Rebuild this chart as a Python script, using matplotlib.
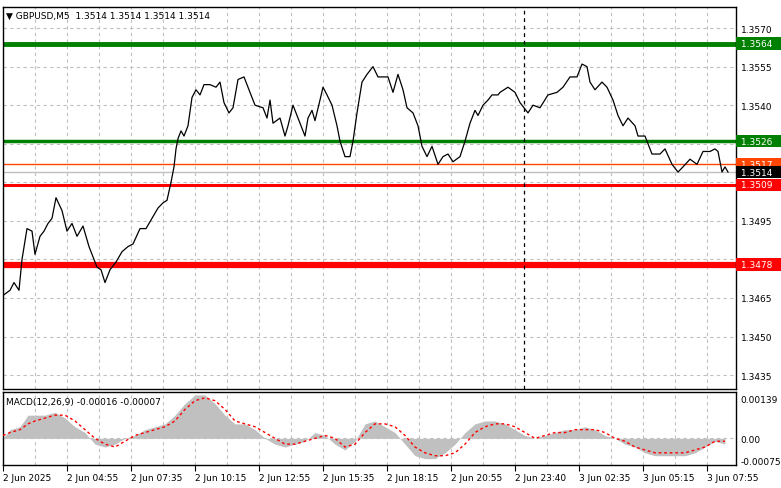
import matplotlib
matplotlib.use("Agg")
import matplotlib.pyplot as plt
import matplotlib.transforms as mtransforms
import numpy as np

# price path as (bar index, close) pairs
price_points = [
 (0,1.3466),(3.5,1.3468),(5.5,1.3471),(8,1.3468),(9.5,1.3480),(12,1.3492),(14.5,1.3491),(16,1.3482),
 (18.5,1.3489),(20.5,1.3491),(22.5,1.3494),(24.5,1.3496),(26.5,1.3504),(29.5,1.3499),(32,1.3491),
 (34.5,1.3494),(37,1.3489),(40,1.3493),(43,1.3485),(45,1.3481),(47,1.3477),(49,1.3476),(51,1.3471),
 (53.5,1.3476),(56.5,1.3479),(59.5,1.3483),(62.5,1.3485),(65,1.3486),(68.5,1.3492),(71.5,1.3492),
 (74.5,1.3496),(77.5,1.3500),(80,1.3502),(82,1.3503),(84,1.3510),(85.5,1.3516),(86.5,1.3523),
 (87.5,1.3527),(89,1.3530),(90.5,1.3528),(92.5,1.3532),(94.5,1.3543),(96.5,1.3546),(98.5,1.3544),
 (100.5,1.3548),(103.5,1.3548),(106.5,1.3547),(108.5,1.3549),(110.5,1.3541),(113,1.3537),(115,1.3539),
 (117.5,1.3550),(120.5,1.3551),(123.5,1.3545),(126,1.3540),(130,1.3539),(132,1.3535),(133.5,1.3542),
 (135,1.3533),(138.5,1.3535),(141,1.3528),(142.5,1.3532),(145,1.3540),(148.5,1.3533),(151,1.3528),
 (152.5,1.3535),(154.5,1.3538),(156,1.3534),(158.5,1.3542),(160,1.3547),(162,1.3544),(164.5,1.3540),
 (167,1.3532),(168.5,1.3526),(171,1.3520),(173.5,1.3520),(175,1.3526),(177,1.3537),(179.5,1.3549),
 (182,1.3552),(185,1.3555),(187.5,1.3551),(190,1.3551),(192.5,1.3551),(195,1.3545),(197.5,1.3552),
 (200,1.3546),(202,1.3539),(205,1.3537),(207.5,1.3532),(209.5,1.3524),(212,1.3520),(214.5,1.3524),
 (217.5,1.3517),(220,1.3520),(222.5,1.3521),(225,1.3518),(228.5,1.3520),(231,1.3526),(233.5,1.3533),
 (236,1.3538),(237.5,1.3536),(240,1.3540),(242.5,1.3542),(244.5,1.3544),(247.5,1.3544),(248.5,1.3545),
 (252.5,1.3547),(256,1.3545),(258.5,1.3541),(262.5,1.3537),(265,1.3540),(268.5,1.3539),(272.5,1.3544),
 (277,1.3545),(280,1.3547),(283.5,1.3551),(287,1.3551),(289.5,1.3556),(292,1.3555),(293.5,1.3549),
 (296,1.3546),(299.5,1.3549),(302,1.3547),(305,1.3542),(307.5,1.3536),(310,1.3532),(312.5,1.3535),
 (316,1.3532),(317.5,1.3528),(321,1.3528),(324.5,1.3521),(328.5,1.3521),(331,1.3523),(334.5,1.3517),
 (337.5,1.3514),(340,1.3516),(343.5,1.3519),(347,1.3517),(350,1.3522),(353.5,1.3522),(356,1.3523),
 (357.5,1.3522),(359.5,1.3514),(361,1.3516),(362.5,1.3514)]

# MACD as (bar index, histogram, signal)
macd_points = [
 (0,0,0.0001),(3.5,0.0003,0.0002),(8.5,0.0004,0.0003),(12.5,0.0008,0.0005),(16,0.0008,0.0006),
 (21,0.0008,0.0007),(26,0.0009,0.0008),(31,0.0007,0.0008),(36,0.0004,0.0006),(41,0.0002,0.0003),
 (46,-0.0002,0.0),(51,-0.0003,-0.0002),(56,-0.0002,-0.0003),(61,0,-0.0001),(66,0.0001,0.0001),
 (71,0.0003,0.0002),(76,0.0004,0.0003),(81,0.0005,0.0004),(86,0.0008,0.0006),(91,0.0012,0.0010),
 (96,0.0015,0.0013),(101,0.0015,0.0014),(106,0.0012,0.0013),(111,0.0008,0.0010),(116,0.0005,0.0006),
 (121,0.0005,0.0005),(126,0.0003,0.0004),(131,0,0.0002),(136,-0.0002,0.0),(141,-0.0003,-0.0002),
 (146,-0.0002,-0.0002),(151,-0.0001,-0.0001),(156,0.0002,0.0),(161,0.0001,0.0001),(166,-0.0002,0.0),
 (171,-0.0004,-0.0003),(176,-0.0001,-0.0002),(181,0.0005,0.0002),(186,0.0006,0.0005),(191,0.0004,0.0005),
 (196,0.0002,0.0004),(201,-0.0002,0.0001),(206,-0.0006,-0.0003),(211,-0.0007,-0.0005),(216,-0.0007,-0.0006),
 (221,-0.0005,-0.0006),(226,-0.0002,-0.0005),(231,0.0002,-0.0002),(236,0.0005,0.0002),(241,0.0006,0.0004),
 (246,0.0006,0.0005),(251,0.0005,0.0005),(256,0.0003,0.0004),(261,0.0001,0.0002),(266,0,0.0),
 (271,0.0001,0.0001),(276,0.0002,0.0002),(281,0.0003,0.0002),(286,0.0003,0.0003),(291,0.0004,0.0003),
 (296,0.0003,0.0003),(301,0.0001,0.0002),(306,0,0.0),(311,-0.0002,-0.0001),(316,-0.0003,-0.0003),
 (321,-0.0005,-0.0004),(326,-0.0006,-0.0005),(331,-0.0006,-0.0005),(336,-0.0006,-0.0005),(341,-0.0006,-0.0005),
 (346,-0.0005,-0.0004),(351,-0.0003,-0.0003),(356,-0.0001,-0.0001),(361,-0.0002,-0.0001)]

time_labels = ["2 Jun 2025","2 Jun 04:55","2 Jun 07:35","2 Jun 10:15","2 Jun 12:55","2 Jun 15:35",
               "2 Jun 18:15","2 Jun 20:55","2 Jun 23:40","3 Jun 02:35","3 Jun 05:15","3 Jun 07:55"]
price_ticks = [1.3435,1.3450,1.3465,1.3480,1.3495,1.3510,1.3525,1.3540,1.3555,1.3570]
hidden_ticks = [1.3480,1.3510,1.3525]  # covered by level labels in the reference
levels = [(1.3564,"#008000",3.5),(1.3526,"#008000",2.5),(1.3517,"#ff4500",1.0),(1.3509,"#ff0000",2.2),(1.3478,"#ff0000",4.5)]
last_price = 1.3514
macd_ticks = [0.00139,0.0,-0.00075]

price_bar = [p[0] for p in price_points]
price_val = [p[1] for p in price_points]
macd_bar = [p[0] for p in macd_points]
macd_hist = [p[1] for p in macd_points]
macd_signal = [p[2] for p in macd_points]

W,H = 781,489
fig = plt.figure(figsize=(W/100,H/100),dpi=100)
plt.rcParams['font.family'] = ['DejaVu Sans']
FS = 6.5
ax = fig.add_axes([3/W, 1-390/H, 733/W, 382/H])
ax2 = fig.add_axes([3/W, 1-466/H, 733/W, 73/H])
xmax = 366.5
for a in (ax, ax2):
    a.set_xlim(0, xmax)
    for i in range(0, 370, 16):
        a.axvline(i, color="#c0c0c0", ls=(0,(3,3)), lw=0.8, zorder=0)
    for s in a.spines.values():
        s.set_linewidth(1.0)
    a.tick_params(length=0, labelsize=FS)
    a.set_xticks([])
    a.yaxis.tick_right()

ymin, ymax = 1.34296, 1.35782
ax.set_ylim(ymin, ymax)
ax.set_yticks(price_ticks)
ax.set_yticklabels(["" if t in hidden_ticks else f"{t:.4f}" for t in price_ticks])
for t in price_ticks:
    ax.axhline(t, color="#c0c0c0", ls=(0,(3,3)), lw=0.8, zorder=0)
ax.axhline(last_price, color="#c0c0c0", lw=1.0, zorder=1)
for v,c,lw in levels:
    ax.axhline(v, color=c, lw=lw, zorder=2)
ax.axvline(260.5, color="black", ls=(0,(3,3)), lw=0.9, zorder=2)
ax.plot(price_bar, price_val, color="black", lw=0.9, zorder=3)
tr = mtransforms.blended_transform_factory(ax.transAxes, ax.transData)
for v,c,lw in levels:
    ax.text(1.003, v, f" {v:.4f}   ", transform=tr, color="white", fontsize=FS, va="center", ha="left",
            bbox=dict(boxstyle="square,pad=0.2", fc=c, ec="none"), zorder=5, clip_on=False)
ax.text(1.003, last_price, f" {last_price:.4f}   ", transform=tr, color="white", fontsize=FS, va="center", ha="left",
        bbox=dict(boxstyle="square,pad=0.2", fc="black", ec="none"), zorder=6, clip_on=False)
ax.text(0.004, 0.99, "\u25bc GBPUSD,M5  1.3514 1.3514 1.3514 1.3514", transform=ax.transAxes,
        fontsize=FS, va="top", ha="left")

ax2.set_ylim(-0.00092, 0.00160)
ax2.fill_between(macd_bar, macd_hist, 0, color="#c0c0c0", lw=0, zorder=1)
ax2.plot(macd_bar, macd_signal, color="red", ls=(0,(2,2)), lw=1.0, zorder=3)
ax2.axhline(0, color="#c0c0c0", ls=(0,(3,3)), lw=0.8, zorder=0)
ax2.set_yticks(macd_ticks)
ax2.set_yticklabels(["0.00139","0.00","-0.00075"])
ax2.text(0.004, 0.93, "MACD(12,26,9) -0.00016 -0.00007", transform=ax2.transAxes, fontsize=FS, va="top")
ax2.set_xticks(range(0, 12*32, 32))
ax2.set_xticklabels(time_labels, ha="left")
ax2.tick_params(axis="x", length=4, labelsize=FS, pad=2)

fig.savefig("out.png", dpi=100)
